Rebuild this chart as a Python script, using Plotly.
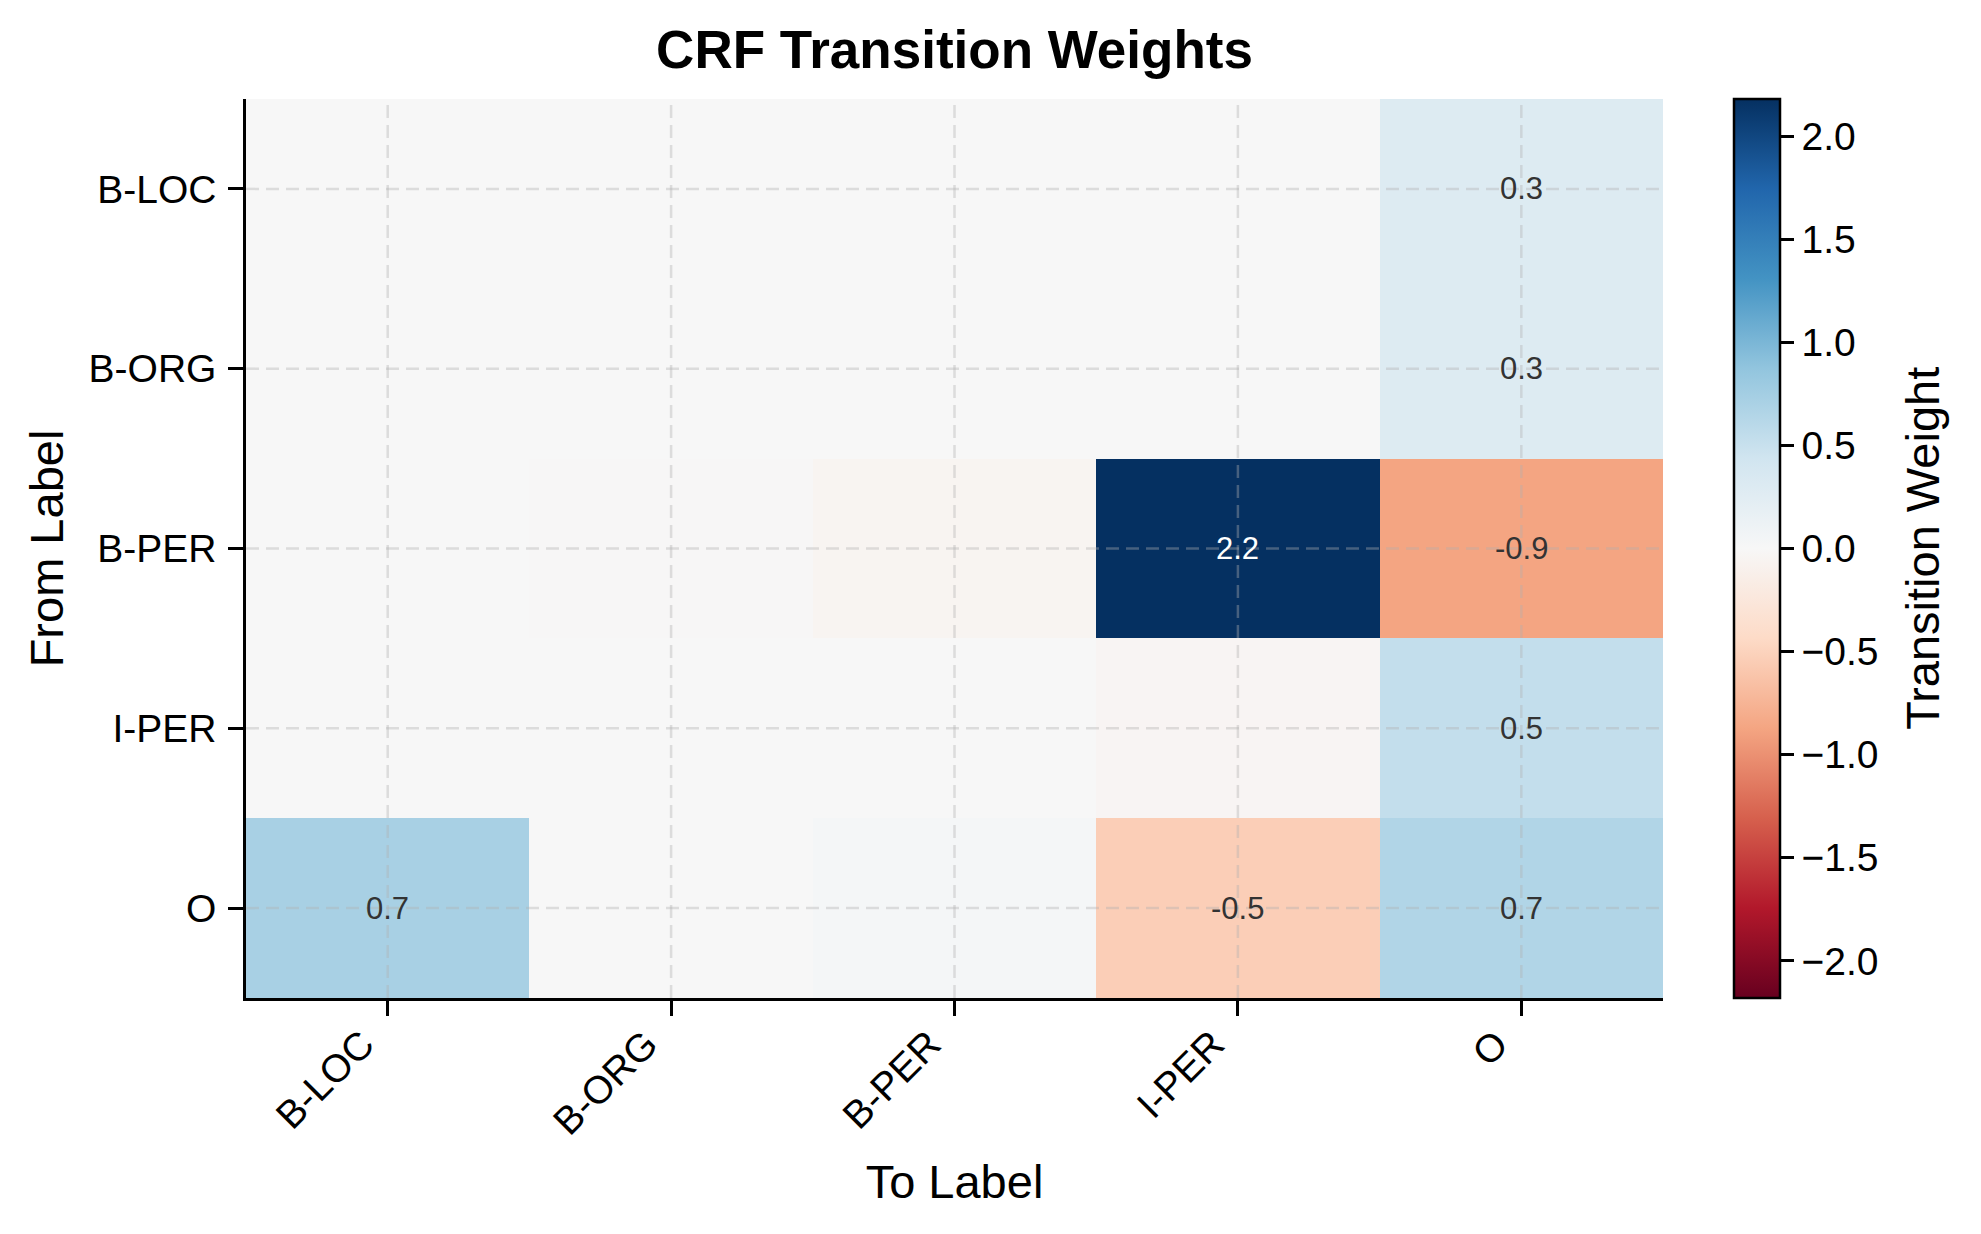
import plotly.graph_objects as go

# Labels of the CRF tag set
from_labels = ["B-LOC", "B-ORG", "B-PER", "I-PER", "O"]
to_labels = ["B-LOC", "B-ORG", "B-PER", "I-PER", "O"]

# Transition weights, one row per "from" label (columns follow to_labels)
b_loc_row = [0.0, 0.0, 0.0, 0.0, 0.30]
b_org_row = [0.0, 0.0, 0.0, 0.0, 0.30]
b_per_row = [0.0, -0.01, -0.05, 2.18, -0.87]
i_per_row = [0.0, 0.0, 0.0, -0.04, 0.53]
o_row = [0.72, 0.0, 0.03, -0.54, 0.66]

weights = [b_loc_row, b_org_row, b_per_row, i_per_row, o_row]

# matplotlib RdBu
rdbu = ["#67001f", "#b2182b", "#d6604d", "#f4a582", "#fddbc7", "#f7f7f7",
        "#d1e5f0", "#92c5de", "#4393c3", "#2166ac", "#053061"]
colorscale = [[i / 10, c] for i, c in enumerate(rdbu)]

vmax = max(abs(v) for row in weights for v in row)

FONT = "Liberation Sans, Arial, sans-serif"

# page body adds an 8px margin, so the figure is a bit smaller than the window
W, H = 1965, 1218
L, T, R, B = 238, 91, 310, 228

fig = go.Figure(go.Heatmap(
    z=weights,
    x=to_labels,
    y=from_labels,
    colorscale=colorscale,
    zmin=-vmax,
    zmax=vmax,
    hovertemplate="%{y} → %{x}<br>%{z:.2f}<extra></extra>",
    colorbar=dict(
        x=1.050, xanchor="left", xref="paper",
        y=0.5, yanchor="middle", len=1, lenmode="fraction",
        thickness=46, thicknessmode="pixels",
        xpad=0, ypad=0,
        outlinecolor="black", outlinewidth=2.5,
        tickmode="linear", tick0=0, dtick=0.5, tickformat=".1f",
        ticks="outside", ticklen=13, tickwidth=2.5, tickcolor="black",
        tickfont=dict(family=FONT, size=39, color="black"),
    ),
))

# value labels for the cells that matter
annotations = []
for i, row in enumerate(weights):
    for j, v in enumerate(row):
        if abs(v) < 0.1:
            continue
        annotations.append(dict(
            x=to_labels[j], y=from_labels[i], xref="x", yref="y",
            text=f"{v:.1f}", showarrow=False,
            font=dict(family=FONT, size=31,
                      color="white" if abs(v) > vmax / 2 else "#333333"),
        ))

# colorbar label
annotations.append(dict(
    text="Transition Weight", textangle=-90, showarrow=False,
    xref="paper", yref="paper", x=1.183, y=0.5,
    xanchor="center", yanchor="middle",
    font=dict(family=FONT, size=47, color="black"),
))

# dashed grid drawn on top of the cells
grid = dict(color="rgba(176,176,176,0.38)", width=2.5, dash="13px,7px")
shapes = []
for lab in to_labels:
    shapes.append(dict(type="line", layer="above", xref="x", yref="y domain",
                       x0=lab, x1=lab, y0=0, y1=1, line=grid))
for lab in from_labels:
    shapes.append(dict(type="line", layer="above", xref="x domain", yref="y",
                       x0=0, x1=1, y0=lab, y1=lab, line=grid))

fig.update_layout(
    width=W, height=H,
    margin=dict(l=L, r=R, t=T, b=B),
    paper_bgcolor="white",
    plot_bgcolor="white",
    font=dict(family=FONT, size=39, color="black"),
    title=dict(text="<b>CRF Transition Weights</b>", x=0.5, xanchor="center",
               xref="paper", y=1 - 41 / H, yanchor="middle", yref="container",
               font=dict(family=FONT, size=53, color="black")),
    annotations=annotations,
    shapes=shapes,
    xaxis=dict(
        title=dict(text="To Label", font=dict(size=47), standoff=24),
        tickangle=-45,
        ticklabelshift=-25,
        ticklabelstandoff=-10,
        showgrid=False, zeroline=False,
        showline=True, linecolor="black", linewidth=2.5,
        ticks="outside", ticklen=15, tickwidth=2.5, tickcolor="black",
        tickfont=dict(size=39),
    ),
    yaxis=dict(
        title=dict(text="From Label", font=dict(size=47), standoff=11),
        autorange="reversed",
        ticklabelstandoff=4,
        showgrid=False, zeroline=False,
        showline=True, linecolor="black", linewidth=2.5,
        ticks="outside", ticklen=15, tickwidth=2.5, tickcolor="black",
        tickfont=dict(size=39),
    ),
)

fig.write_html("out.html")
